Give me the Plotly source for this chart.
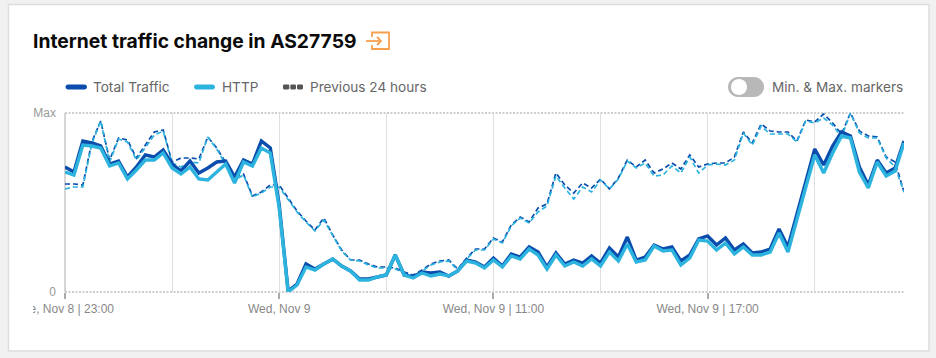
import pandas as pd
import plotly.graph_objects as go

TITLE = "Internet traffic change in AS27759"
SERIES_NAMES = ["Total Traffic", "HTTP", "Previous 24 hours"]
TOGGLE_LABEL = "Min. & Max. markers"
TICK_TIMES = ["2022-11-08 23:00", "2022-11-09 05:00", "2022-11-09 11:00", "2022-11-09 17:00"]
TICK_LABELS = ["Tue, Nov 8 | 23:00", "Wed, Nov 9", "Wed, Nov 9 | 11:00", "Wed, Nov 9 | 17:00"]
Y_TICKS = [0, 179]
Y_LABELS = ["0", "Max"]

total = [125,120,151,149,146,128,131,115,125,137,135,142,128,121,131,119,124,130,131,115,132,128,151,144,87,
         1,8,28,23,28,33,26,21,13,13,15,17,37,17,15,20,19,20,16,21,32,30,25,34,26,38,35,45,40,25,39,28,32,29,36,
         29,44,35,55,32,35,47,43,45,31,37,53,56,47,54,42,48,39,40,43,63,45,77,110,143,127,146,160,156,125,107,132,119,124,151]
http = [120,117,147,146,144,126,129,113,122,132,132,139,124,118,125,113,112,120,128,109,130,126,144,139,84,
        0,7,25,22,28,33,26,21,12,12,15,17,37,17,14,19,16,18,16,21,31,29,24,32,25,36,33,43,37,23,37,26,30,26,33,
        26,40,31,48,30,32,46,41,42,27,34,52,51,42,49,38,45,37,37,40,59,40,74,105,137,119,139,156,154,120,104,130,116,121,149]
prev_total = [108,108,107,150,171,132,154,152,134,147,160,162,130,134,134,133,155,144,130,115,118,96,100,107,107,
              94,81,71,62,74,57,42,32,32,28,25,25,24,20,17,22,28,31,32,23,34,43,43,54,50,67,75,70,84,88,119,107,99,109,104,
              113,103,114,132,125,132,119,123,129,123,137,125,128,129,129,135,160,149,168,161,160,160,151,172,170,178,169,158,179,161,156,155,135,130,100]
prev_http = [103,105,105,148,171,130,153,150,132,144,157,161,129,125,130,129,155,143,128,112,117,95,99,105,105,
             93,80,70,61,72,56,41,32,31,27,24,24,23,19,16,21,27,30,31,22,33,42,42,53,49,66,74,69,80,86,116,104,93,105,100,
             112,103,113,131,124,129,116,117,126,119,135,119,127,128,127,132,159,147,166,158,158,158,150,171,169,174,167,155,179,159,154,154,134,125,100]
times = pd.date_range("2022-11-08 23:00", periods=len(total), freq="15min")

DARK = "#0A4DAD"
LIGHT = "#2DB4DE"
L, R, T, B = 65, 904, 113, 292

def px(x):
    return (x - L) / (R - L)

def py(y):
    return (B - y) / (B - T)

def pill(x0, x1, yc, h, color, r=None):
    r = h / 2 if r is None else r
    k = r * 0.55
    t, b = yc - h / 2, yc + h / 2
    d = (f"M {px(x0+r)} {py(t)} L {px(x1-r)} {py(t)} "
         f"C {px(x1-r+k)} {py(t)} {px(x1)} {py(t+r-k)} {px(x1)} {py(t+r)} "
         f"L {px(x1)} {py(b-r)} "
         f"C {px(x1)} {py(b-r+k)} {px(x1-r+k)} {py(b)} {px(x1-r)} {py(b)} "
         f"L {px(x0+r)} {py(b)} "
         f"C {px(x0+r-k)} {py(b)} {px(x0)} {py(b-r+k)} {px(x0)} {py(b-r)} "
         f"L {px(x0)} {py(t+r)} "
         f"C {px(x0)} {py(t+r-k)} {px(x0+r-k)} {py(t)} {px(x0+r)} {py(t)} Z")
    return dict(type="path", xref="paper", yref="paper", path=d, fillcolor=color,
                line=dict(width=0), layer="above")

def poly(points, color, width):
    d = "M " + " L ".join(f"{px(x)} {py(y)}" for x, y in points)
    return dict(type="path", xref="paper", yref="paper", path=d,
                line=dict(color=color, width=width), layer="above")

def label(x, y, text, size=13.6, color="#666666", family="Inter", anchor="left"):
    return dict(xref="paper", yref="paper", x=px(x), y=py(y), text=text, showarrow=False,
                xanchor=anchor, yanchor="middle", align="left",
                font=dict(size=size, color=color, family=family))

fig = go.Figure()
for vals, name, color in [(prev_total, "Previous 24 hours (Total Traffic)", DARK), (prev_http, "Previous 24 hours (HTTP)", LIGHT)]:
    fig.add_trace(go.Scatter(x=times, y=vals, mode="lines", name=name, showlegend=False, cliponaxis=False,
                             line=dict(color=color, width=1.7, dash="5px,3px")))
for vals, name, color, w in [(total, SERIES_NAMES[0], DARK, 3.4), (http, SERIES_NAMES[1], LIGHT, 3.4)]:
    fig.add_trace(go.Scatter(x=times, y=vals, mode="lines", name=name, showlegend=False, cliponaxis=False,
                             line=dict(color=color, width=w)))

ORANGE = "#F6A04F"
shapes = [
    dict(type="rect", xref="paper", yref="paper", x0=px(8.5), x1=px(929), y0=py(351), y1=py(4.5),
         fillcolor="white", line=dict(color="#DDDDDD", width=1.5), layer="below"),
    dict(type="line", xref="paper", yref="paper", x0=0, x1=0, y0=0, y1=1,
         line=dict(color="#D5D5D5", width=2), layer="below"),
    dict(type="line", xref="paper", yref="paper", x0=0, x1=1, y0=1, y1=1,
         line=dict(color="#BDBDBD", width=1.5, dash="2px,1.5px"), layer="below"),
    dict(type="line", xref="paper", yref="paper", x0=0, x1=1, y0=0, y1=0,
         line=dict(color="#BDBDBD", width=1.5, dash="2px,1.5px"), layer="below"),
    dict(type="rect", xref="paper", yref="paper", x0=px(9.5), x1=px(33), y0=py(322), y1=py(298),
         fillcolor="white", line=dict(width=0), layer="above"),
    poly([(372, 37), (372, 32.5), (389, 32.5), (389, 49), (372, 49), (372, 45)], ORANGE, 1.8),
    poly([(366, 41), (381, 41)], ORANGE, 1.8),
    poly([(377, 37), (381, 41), (377, 45)], ORANGE, 1.8),
    pill(65.5, 87, 87, 5, DARK),
    pill(194, 215, 87, 5, LIGHT),
    pill(283, 289.3, 87, 5, "#555555", r=1.2),
    pill(290.3, 296, 87, 5, "#555555", r=1.2),
    pill(297, 303, 87, 5, "#555555", r=1.2),
    pill(728, 764, 87, 20, "#B8B8B8"),
    pill(731, 747, 87, 16, "#FFFFFF"),
]

annotations = [
    label(30.5, 41, f"<b>{TITLE}</b>", size=19.3, color="#0A0A0A"),
    label(90.5, 87, SERIES_NAMES[0]),
    label(219.5, 87, SERIES_NAMES[1]),
    label(307.5, 87, SERIES_NAMES[2]),
    label(769.5, 87, TOGGLE_LABEL),
]

fig.update_layout(
    width=936, height=358, margin=dict(l=L, r=936 - R, t=T, b=358 - B),
    paper_bgcolor="#F1F1F1", plot_bgcolor="rgba(0,0,0,0)", showlegend=False,
    shapes=shapes, annotations=annotations,
    xaxis=dict(type="date", range=[times[0], times[-1]], tickmode="array", tickvals=TICK_TIMES, ticktext=TICK_LABELS,
               ticks="outside", ticklen=6, tickwidth=1.5, tickcolor="#AAAAAA", showgrid=True, gridcolor="#DFDFDF",
               gridwidth=1, zeroline=False, showline=False, tickangle=0,
               tickfont=dict(family="Liberation Sans", size=12, color="#888888"),
               minor=dict(dtick=3 * 3600000, tick0=TICK_TIMES[0], showgrid=True, gridcolor="#DFDFDF", gridwidth=1, ticks="")),
    yaxis=dict(range=[0, 179], tickmode="array", tickvals=Y_TICKS, ticktext=Y_LABELS, ticks="", showgrid=True,
               gridcolor="#BDBDBD", gridwidth=1.2, griddash="dot", zeroline=False, showline=False, ticklabelstandoff=8,
               tickfont=dict(family="Liberation Sans", size=12, color="#999999")),
)
fig.write_html("out.html", config=dict(displayModeBar=False), post_script="document.body.style.margin='0';document.body.style.background='#F1F1F1';")
